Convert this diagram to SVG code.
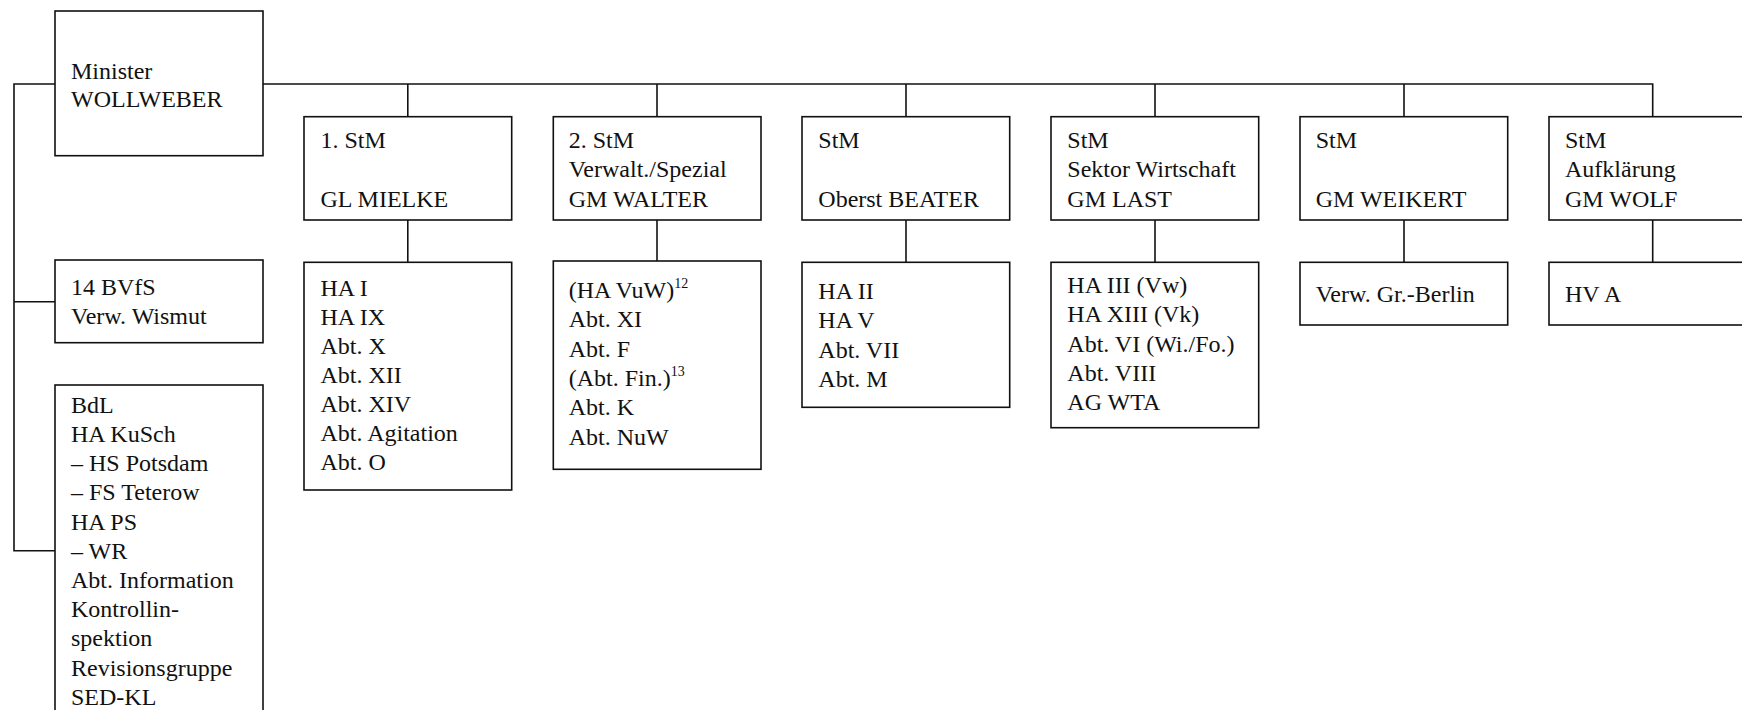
<svg xmlns="http://www.w3.org/2000/svg" width="1742" height="710" viewBox="0 0 1742 710">
<style>
.box{fill:#fff;stroke:#111;stroke-width:1.6}
.con{fill:none;stroke:#111;stroke-width:1.6}
text{font-family:"Liberation Serif","Times New Roman",serif;font-size:24px;fill:#111}
.sup{font-size:14px}
</style>
<rect width="1742" height="710" fill="#fff"/>
<g id="connectors" class="con">
<polyline points="55,84 14,84 14,550.7 55,550.7"/>
<line x1="14" y1="301.7" x2="55" y2="301.7"/>
<polyline points="263,84 1652.7,84 1652.7,116.7"/>
<line x1="407.8" y1="84" x2="407.8" y2="116.7"/>
<line x1="657" y1="84" x2="657" y2="116.7"/>
<line x1="906" y1="84" x2="906" y2="116.7"/>
<line x1="1155" y1="84" x2="1155" y2="116.7"/>
<line x1="1404" y1="84" x2="1404" y2="116.7"/>
<line x1="407.8" y1="220" x2="407.8" y2="262.3"/>
<line x1="657" y1="220" x2="657" y2="261"/>
<line x1="906" y1="220" x2="906" y2="262.3"/>
<line x1="1155" y1="220" x2="1155" y2="262.3"/>
<line x1="1404" y1="220" x2="1404" y2="262.3"/>
<line x1="1652.7" y1="220" x2="1652.7" y2="262.3"/>
</g>
<g id="minister">
<rect class="box" x="55" y="11" width="208" height="144.7"/>
<text x="71" y="79">Minister</text>
<text x="71" y="106.7">WOLLWEBER</text>
</g>
<g id="bvfs">
<rect class="box" x="55" y="260" width="208" height="82.7"/>
<text x="71" y="295">14 BVfS</text>
<text x="71" y="324.3">Verw. Wismut</text>
</g>
<g id="bdl">
<rect class="box" x="55" y="385" width="208" height="340"/>
<text x="71" y="412.7">BdL</text>
<text x="71" y="442">HA KuSch</text>
<text x="71" y="471.2">– HS Potsdam</text>
<text x="71" y="500.4">– FS Teterow</text>
<text x="71" y="529.6">HA PS</text>
<text x="71" y="558.8">– WR</text>
<text x="71" y="588">Abt. Information</text>
<text x="71" y="617.2">Kontrollin-</text>
<text x="71" y="646.4">spektion</text>
<text x="71" y="675.6">Revisionsgruppe</text>
<text x="71" y="704.6">SED-KL</text>
</g>
<g id="stm1">
<rect class="box" x="304" y="116.7" width="207.7" height="103.3"/>
<text x="320.5" y="147.7">1. StM</text>
<text x="320.5" y="206.7">GL MIELKE</text>
</g>
<g id="stm1-units">
<rect class="box" x="304" y="262.3" width="207.7" height="227.7"/>
<text x="320.5" y="296">HA I</text>
<text x="320.5" y="325">HA IX</text>
<text x="320.5" y="354">Abt. X</text>
<text x="320.5" y="383">Abt. XII</text>
<text x="320.5" y="412">Abt. XIV</text>
<text x="320.5" y="441">Abt. Agitation</text>
<text x="320.5" y="470">Abt. O</text>
</g>
<g id="stm2">
<rect class="box" x="553.3" y="116.7" width="207.7" height="103.3"/>
<text x="568.7" y="147.7">2. StM</text>
<text x="568.7" y="176.7">Verwalt./Spezial</text>
<text x="568.7" y="206.7">GM WALTER</text>
</g>
<g id="stm2-units">
<rect class="box" x="553.3" y="261" width="207.7" height="208.3"/>
<text x="568.7" y="298">(HA VuW)<tspan class="sup" dy="-10">12</tspan></text>
<text x="568.7" y="327.3">Abt. XI</text>
<text x="568.7" y="356.6">Abt. F</text>
<text x="568.7" y="385.9">(Abt. Fin.)<tspan class="sup" dy="-10">13</tspan></text>
<text x="568.7" y="415.2">Abt. K</text>
<text x="568.7" y="444.5">Abt. NuW</text>
</g>
<g id="stm3">
<rect class="box" x="802" y="116.7" width="207.7" height="103.3"/>
<text x="818.3" y="147.7">StM</text>
<text x="818.3" y="206.7">Oberst BEATER</text>
</g>
<g id="stm3-units">
<rect class="box" x="802" y="262.3" width="207.7" height="145"/>
<text x="818.3" y="299.3">HA II</text>
<text x="818.3" y="328.4">HA V</text>
<text x="818.3" y="357.5">Abt. VII</text>
<text x="818.3" y="386.6">Abt. M</text>
</g>
<g id="stm4">
<rect class="box" x="1051" y="116.7" width="207.7" height="103.3"/>
<text x="1067.3" y="147.7">StM</text>
<text x="1067.3" y="176.7">Sektor Wirtschaft</text>
<text x="1067.3" y="206.7">GM LAST</text>
</g>
<g id="stm4-units">
<rect class="box" x="1051" y="262.3" width="207.7" height="165.4"/>
<text x="1067.3" y="293.3">HA III (Vw)</text>
<text x="1067.3" y="322.4">HA XIII (Vk)</text>
<text x="1067.3" y="351.5">Abt. VI (Wi./Fo.)</text>
<text x="1067.3" y="380.6">Abt. VIII</text>
<text x="1067.3" y="409.7">AG WTA</text>
</g>
<g id="stm5">
<rect class="box" x="1300" y="116.7" width="207.7" height="103.3"/>
<text x="1315.7" y="147.7">StM</text>
<text x="1315.7" y="206.7">GM WEIKERT</text>
</g>
<g id="stm5-units">
<rect class="box" x="1300" y="262.3" width="207.7" height="62.7"/>
<text x="1315.7" y="301.7">Verw. Gr.-Berlin</text>
</g>
<g id="stm6">
<rect class="box" x="1549" y="116.7" width="207.7" height="103.3"/>
<text x="1565" y="147.7">StM</text>
<text x="1565" y="176.7">Aufklärung</text>
<text x="1565" y="206.7">GM WOLF</text>
</g>
<g id="stm6-units">
<rect class="box" x="1549" y="262.3" width="207.7" height="62.7"/>
<text x="1565" y="301.7">HV A</text>
</g>
</svg>
